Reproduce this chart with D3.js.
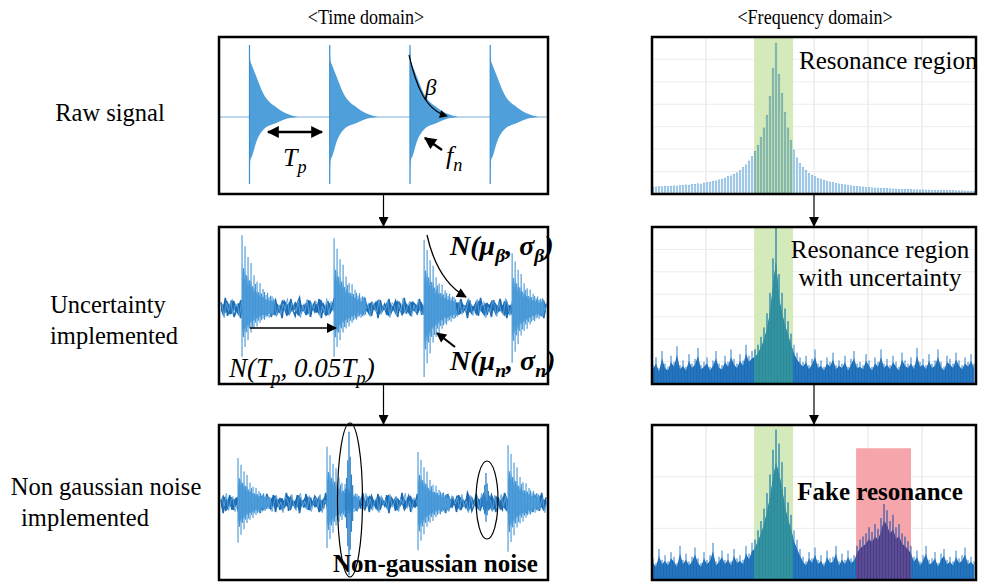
<!DOCTYPE html>
<html>
<head>
<meta charset="utf-8">
<script src="https://cdn.jsdelivr.net/npm/d3@7"></script>
<style>
  body { margin: 0; background: #fff; }
  svg { display: block; }
  svg text { font-family: "Liberation Serif", "Times New Roman", Times, serif; }
</style>
</head>
<body>
<svg width="984" height="586"></svg>
<script>
// ---- data ----
const columnTitles = ["<Time domain>", "<Frequency domain>"];
const rowLabels = [["Raw signal"], ["Uncertainty", "implemented"], ["Non gaussian noise", "implemented"]];

// raw signal: burst start times (periods) and decay envelope
const rawBurstTimes = [0, 1, 2, 3];
const rawEnvT    = [0, 0.01, 0.03, 0.09, 0.17, 0.34, 0.5, 0.6];
const rawEnvUp   = [1.0, 0.78, 0.72, 0.55, 0.33, 0.13, 0.03, 0];
const rawEnvDown = [0.93, 0.6, 0.55, 0.33, 0.18, 0.08, 0.015, 0];

// noise samples (normalised)
const timeNoise = [0.5,-0.3,0.9,-0.7,0.2,0.6,-0.8,-0.2,0.4,-0.9,0.7,0.1,-0.5,0.8,-0.4,-0.1,0.6,-0.7,0.3,0.9,
  -0.6,-0.3,0.5,-0.8,0.2,0.7,-0.4,0.1,-0.9,0.6,0.3,-0.5,0.8,-0.2,-0.7,0.4,0.9,-0.3,0.2,-0.6,
  0.7,-0.8,0.1,0.5,-0.4,0.8,-0.9,0.3,-0.1,0.6,-0.5,0.2,0.9,-0.7,0.4,-0.3,0.7,-0.6,-0.2,0.8,
  -0.4,0.3,-0.8,0.6,0.1,-0.5,0.9,-0.3,0.4,-0.7,0.2,0.5,-0.9,0.7,-0.2,0.3,-0.6,0.8,-0.4,0.1,
  0.6,-0.8,0.4,-0.1,0.9,-0.5,0.2,-0.7,0.5,0.3,-0.4,0.8,-0.6,0.1,-0.9,0.7,-0.3,0.4,-0.2,0.6,
  -0.7,0.9,-0.5,0.2,-0.8,0.3,0.6,-0.1,0.5,-0.6,0.8,-0.4,0.2,-0.9,0.7,-0.3,0.1,0.5,-0.7,0.9,
  -0.2,0.4,-0.6,0.3,-0.8,0.7,-0.5,0.1,0.8,-0.3,0.6,-0.9,0.2,-0.4,0.5,-0.1,0.9,-0.7,0.3,-0.5,
  0.6,-0.8,0.4,0.2,-0.6,0.7,-0.3,0.5,-0.9,0.3];

// burst shape with uncertainty (samples after onset)
const burstUp   = [1.0,0.55,0.85,0.45,0.7,0.38,0.62,0.3,0.45,0.33,0.36,0.22,0.34,0.2,0.26,0.22,0.18,0.21,0.15,0.17,0.16,0.13];
const burstDown = [1.0,0.6,0.8,0.5,0.66,0.42,0.5,0.39,0.42,0.3,0.38,0.26,0.3,0.25,0.22,0.24,0.19,0.17,0.2,0.15,0.16,0.14];

const uncBurstTimes = [-0.093, 1.054, 2.176, 3.273];
const uncAmpUp      = [0.97, 0.93, 0.91, 0.73];
const uncAmpDown    = [0.65, 0.65, 0.92, 0.73];

const ngBurstTimes = [-0.143, 0.966, 2.10, 3.222];
const ngAmpUp      = [0.6, 0.75, 0.68, 0.77];
const ngAmpDown    = [0.53, 0.6, 0.63, 0.65];

// non-gaussian spikes
const spikeTimes   = [1.24, 2.947];
const spikeAmpUp   = [0.95, 0.4];
const spikeAmpDown = [0.96, 0.25];
const spikeShape   = [0.2, 0.35, 0.6, 1.0, 0.65, 0.4, 0.25];

// spectra (0-100 of panel height), 108 bins
const rawSpectrum = [4.5,4.5,4.8,4.6,5,4.8,5,5.2,5,5.4,
  5.5,5.8,5.6,6,6.2,6.5,6.3,7,7.2,7.5,
  8,8.3,9,9.4,10,11,11.5,12.5,13.5,15,
  17,18.5,21,24,27,31,36,42,50,62,
  80,96,76,64,52,42,34,28,23,19.5,
  17,15,13,12,11,10,9.5,8.8,8.2,7.6,
  7.2,6.8,6.4,6,5.8,5.5,5.2,5,4.8,4.6,
  4.4,4.2,4,3.9,3.8,3.7,3.6,3.5,3.4,3.3,
  3.2,3.1,3,3,2.9,2.8,2.8,2.7,2.7,2.6,
  2.6,2.5,2.5,2.4,2.4,2.3,2.3,2.2,2.2,2.1,
  2.1,2,2,2,1.9,1.9,1.8,1.8];

const uncSpectrum = [12,17,10,21,13,11,18,14,24,12,
  15,11,19,13,16,23,12,14,17,11,
  15,21,13,12,18,14,22,16,13,19,
  15,25,18,21,22,25,30,36,45,58,
  80,100,70,58,48,40,32,25,20,17,
  14,18,12,16,22,13,15,11,17,14,
  20,12,15,13,18,11,16,21,13,14,
  12,19,15,11,17,14,22,13,16,12,
  18,14,11,20,15,13,17,12,23,14,
  16,12,19,13,15,22,14,11,18,16,
  13,20,15,12,17,14,19,13];

const ngSpectrum = [14,11,20,13,16,12,18,15,11,22,
  13,17,12,15,21,14,11,18,13,16,
  24,12,15,19,13,17,12,20,14,16,
  13,22,17,24,26,32,38,46,56,68,
  84,97,88,76,60,50,42,32,26,20,
  15,12,18,14,21,13,16,11,19,14,
  15,22,12,17,13,19,14,16,
  22,26,28,30,34,31,36,33,40,49,45,38,42,34,36,30,28,25,22,
  15,19,12,16,22,13,14,18,11,17,20,13,15,12,19,14,16,21,13,15,12];

const resonanceBand = [33.7, 46.7];   // bins
const fakeBand = [67.7, 86];          // bins
const fakeBandTop = 85;               // % of panel height

// ---- layout ----
const svg = d3.select("svg");
const rows = [[37, 194], [227, 384], [425, 580]];
const timeX = [219, 548];
const freqX = [652, 976];
const timeCenters = [117, 308, 503];
const NOISE_LEVEL = 0.15;
const PROFILE_STEP = 0.0187;
const BODY = 0.62;
const SPEC_BODY = 0.78;

const defs = svg.append("defs");
function marker(id, w, h) {
  defs.append("marker")
    .attr("id", id)
    .attr("viewBox", "0 0 10 10")
    .attr("refX", 9).attr("refY", 5)
    .attr("markerUnits", "userSpaceOnUse")
    .attr("markerWidth", w).attr("markerHeight", h)
    .attr("orient", "auto-start-reverse")
    .append("path").attr("d", "M0,0 L10,5 L0,10 z").attr("fill", "#000");
}
marker("headBig", 13, 12);
marker("headMid", 11, 10);
marker("headSmall", 9, 8);

// titles (narrow serif, as in the original)
svg.selectAll("text.title")
  .data(columnTitles)
  .enter().append("text")
  .attr("class", "title")
  .attr("transform", (d, i) => `translate(${i === 0 ? 366 : 815},24) scale(0.84,1)`)
  .attr("text-anchor", "middle")
  .attr("font-size", 21.5)
  .text(d => d);

// row labels
const labelPos = [[[110, 121]], [[108, 313], [114, 344]], [[106, 495], [85, 526]]];
rowLabels.forEach((lines, r) => {
  lines.forEach((t, k) => {
    svg.append("text")
      .attr("x", labelPos[r][k][0]).attr("y", labelPos[r][k][1])
      .attr("text-anchor", "middle")
      .attr("font-size", 24.5)
      .text(t);
  });
});

function clipFor(id, x0, x1, y0, y1) {
  defs.append("clipPath").attr("id", id)
    .append("rect").attr("x", x0).attr("y", y0).attr("width", x1 - x0).attr("height", y1 - y0);
  return `url(#${id})`;
}

// ---- time panels ----
const tx = d3.scaleLinear().domain([-0.38, 3.72]).range(timeX);

function timeY(r) {
  return d3.scaleLinear().domain([-1, 1]).range([timeCenters[r] + 75, timeCenters[r] - 75]);
}

// panel 1: raw signal
{
  const y = d3.scaleLinear().domain([-1, 1]).range([timeCenters[0] + 72, timeCenters[0] - 72]);
  const g = svg.append("g").attr("clip-path", clipFor("ct0", timeX[0], timeX[1], rows[0][0], rows[0][1]));
  g.append("line")
    .attr("x1", timeX[0]).attr("x2", timeX[1])
    .attr("y1", y(0)).attr("y2", y(0))
    .attr("stroke", "#a6c8e4").attr("stroke-width", 1.5);
  const area = d3.area()
    .x(d => d.x).y0(d => y(-d.down)).y1(d => y(d.up))
    .curve(d3.curveMonotoneX);
  rawBurstTimes.forEach(t0 => {
    const pts = rawEnvT.map((dt, k) => ({ x: tx(t0 + dt), up: rawEnvUp[k], down: rawEnvDown[k] }));
    g.append("path").attr("d", area(pts)).attr("fill", "#4f9fda");
    g.append("line")
      .attr("x1", tx(t0)).attr("x2", tx(t0))
      .attr("y1", y(rawEnvUp[0])).attr("y2", y(-rawEnvDown[0]))
      .attr("stroke", "#3b8fd0").attr("stroke-width", 1.2);
  });
}

function noisyPanel(r, noise, times, ampUp, ampDown) {
  const y = timeY(r);
  const g = svg.append("g").attr("clip-path", clipFor("ct" + r, timeX[0], timeX[1], rows[r][0], rows[r][1]));
  const nx = d3.scaleLinear().domain([0, noise.length - 1]).range([timeX[0] + 2, timeX[1] - 2]);
  const rev = noise.slice().reverse();
  // dense band
  g.append("path")
    .attr("d", d3.area().x((d, i) => nx(i))
      .y0((d, i) => y(-Math.abs(rev[i]) * NOISE_LEVEL * 0.85))
      .y1(d => y(Math.abs(d) * NOISE_LEVEL * 0.85))(noise))
    .attr("fill", "#226fb6");
  g.append("path")
    .attr("d", d3.line().x((d, i) => nx(i)).y(d => y(d * NOISE_LEVEL))(noise))
    .attr("fill", "none").attr("stroke", "#1c69b1").attr("stroke-width", 1.6);
  g.append("path")
    .attr("d", d3.line().x((d, i) => nx(i) + 1).y(d => y(d * NOISE_LEVEL * 0.95))(rev))
    .attr("fill", "none").attr("stroke", "#5aa6de").attr("stroke-width", 0.9);
  const env = d3.area().x(d => d.x).y0(d => d.y0).y1(d => d.y1).curve(d3.curveMonotoneX);
  times.forEach((t0, b) => {
    const pts = burstUp.map((d, k) => ({
      x: tx(t0 + k * PROFILE_STEP),
      y1: y(d * ampUp[b] * BODY), y0: y(-burstDown[k] * ampDown[b] * BODY)
    }));
    g.append("path").attr("d", env(pts)).attr("fill", "#5aa5dd");
    g.selectAll(null)
      .data(burstUp)
      .enter().append("line")
      .attr("x1", (d, k) => tx(t0 + k * PROFILE_STEP))
      .attr("x2", (d, k) => tx(t0 + k * PROFILE_STEP))
      .attr("y1", d => y(d * ampUp[b]))
      .attr("y2", (d, k) => y(-burstDown[k] * ampDown[b]))
      .attr("stroke", "#4596d6").attr("stroke-width", 1.1);
  });
  return g;
}

noisyPanel(1, timeNoise, uncBurstTimes, uncAmpUp, uncAmpDown);
{
  const g = noisyPanel(2, timeNoise.slice().reverse(), ngBurstTimes, ngAmpUp, ngAmpDown);
  const y = timeY(2);
  spikeTimes.forEach((t0, s) => {
    g.selectAll(null)
      .data(spikeShape)
      .enter().append("line")
      .attr("x1", (d, k) => tx(t0 + (k - 3) * PROFILE_STEP * 0.8))
      .attr("x2", (d, k) => tx(t0 + (k - 3) * PROFILE_STEP * 0.8))
      .attr("y1", d => y(d * spikeAmpUp[s]))
      .attr("y2", d => y(-d * spikeAmpDown[s]))
      .attr("stroke", "#2f82c8").attr("stroke-width", 1.3);
  });
}

// ---- frequency panels ----
const fx = d3.scaleLinear().domain([0, 107]).range([freqX[0] + 1, freqX[1] - 2]);
function freqY(r) {
  return d3.scaleLinear().domain([0, 100]).range([rows[r][1], rows[r][0]]);
}

function freqGrid(g, r, hDiv) {
  const y = freqY(r);
  const gx = d3.scaleLinear().domain([0, 6]).range(freqX);
  g.selectAll(null).data(d3.range(1, 6)).enter().append("line")
    .attr("x1", d => gx(d)).attr("x2", d => gx(d))
    .attr("y1", rows[r][0]).attr("y2", rows[r][1])
    .attr("stroke", "#e3e3e3").attr("stroke-width", 1);
  g.selectAll(null).data(d3.range(1, hDiv)).enter().append("line")
    .attr("x1", freqX[0]).attr("x2", freqX[1])
    .attr("y1", d => y(d * 100 / hDiv)).attr("y2", d => y(d * 100 / hDiv))
    .attr("stroke", "#ececec").attr("stroke-width", 1);
}

function band(g, r, b, top, color) {
  const y = freqY(r);
  g.append("rect")
    .attr("x", fx(b[0])).attr("width", fx(b[1]) - fx(b[0]))
    .attr("y", y(top)).attr("height", y(0) - y(top))
    .attr("fill", color);
}

// panel 1: raw spectrum bars
{
  const r = 0, y = freqY(r);
  const g = svg.append("g").attr("clip-path", clipFor("cf0", freqX[0], freqX[1], rows[r][0], rows[r][1]));
  freqGrid(g, r, 7);
  band(g, r, resonanceBand, 100, "#d5eabb");
  g.selectAll(null).data(rawSpectrum).enter().append("rect")
    .attr("x", (d, i) => fx(i) - 0.8).attr("width", 1.6)
    .attr("y", d => y(d)).attr("height", d => y(0) - y(d))
    .attr("fill", "#b3d5ee").attr("stroke", "#78b0db").attr("stroke-width", 0.5);
  g.selectAll(null).data(rawSpectrum.slice(34, 47)).enter().append("rect")
    .attr("x", (d, i) => fx(i + 34) - 0.8).attr("width", 1.6)
    .attr("y", d => y(d)).attr("height", d => y(0) - y(d))
    .attr("fill", "#9cc7b4").attr("stroke", "#6aa596").attr("stroke-width", 0.5);
}

function denseSpectrum(r, spec, bands) {
  const y = freqY(r);
  const g = svg.append("g").attr("clip-path", clipFor("cf" + r, freqX[0], freqX[1], rows[r][0], rows[r][1]));
  freqGrid(g, r, r === 1 ? 7 : 3);
  bands.forEach(b => band(g, r, b.range, b.top, b.bg));
  const body = d3.area().x((d, i) => fx(i)).y0(y(0)).y1(d => y(d * SPEC_BODY));
  const draw = (sel, fill, spike) => {
    sel.append("path").attr("d", body(spec)).attr("fill", fill);
    sel.selectAll(null).data(spec).enter().append("line")
      .attr("x1", (d, i) => fx(i)).attr("x2", (d, i) => fx(i))
      .attr("y1", y(0)).attr("y2", d => y(d))
      .attr("stroke", spike).attr("stroke-width", 1);
  };
  draw(g, "#1b6cb5", "#2f7fc6");
  bands.forEach((b, k) => {
    const id = `cb${r}_${k}`;
    defs.append("clipPath").attr("id", id).append("rect")
      .attr("x", fx(b.range[0])).attr("width", fx(b.range[1]) - fx(b.range[0]))
      .attr("y", rows[r][0]).attr("height", rows[r][1] - rows[r][0]);
    draw(g.append("g").attr("clip-path", `url(#${id})`), b.fg, b.edge);
  });
  return g;
}

denseSpectrum(1, uncSpectrum, [
  { range: resonanceBand, top: 100, bg: "#d5eabb", fg: "#2b8b9b", edge: "#3d9aa4" }
]);
denseSpectrum(2, ngSpectrum, [
  { range: resonanceBand, top: 100, bg: "#d5eabb", fg: "#2b8b9b", edge: "#3d9aa4" },
  { range: fakeBand, top: fakeBandTop, bg: "#f6a6ab", fg: "#4a3c87", edge: "#6a5aa0" }
]);

// ---- panel-internal text (under the border) ----
svg.append("text")
  .attr("x", 799).attr("y", 69)
  .attr("font-size", 25)
  .text("Resonance region");
svg.selectAll(null).data(["Resonance region", "with uncertainty"]).enter().append("text")
  .attr("x", 880).attr("y", (d, i) => 258 + i * 28)
  .attr("text-anchor", "middle")
  .attr("font-size", 25)
  .text(d => d);
svg.append("text")
  .attr("x", 880).attr("y", 500)
  .attr("text-anchor", "middle")
  .attr("font-size", 25).attr("font-weight", "bold")
  .text("Fake resonance");

// ---- panel borders ----
rows.forEach(([y0, y1]) => {
  [timeX, freqX].forEach(([x0, x1]) => {
    svg.append("rect")
      .attr("x", x0).attr("y", y0).attr("width", x1 - x0).attr("height", y1 - y0)
      .attr("fill", "none").attr("stroke", "#000").attr("stroke-width", 2.5);
  });
});

// flow arrows between panels
[[rows[0][1], rows[1][0]], [rows[1][1], rows[2][0]]].forEach(([a, b]) => {
  [(timeX[0] + timeX[1]) / 2, (freqX[0] + freqX[1]) / 2].forEach(x => {
    svg.append("line")
      .attr("x1", x).attr("x2", x).attr("y1", a + 1).attr("y2", b - 1)
      .attr("stroke", "#000").attr("stroke-width", 1.2)
      .attr("marker-end", "url(#headMid)");
  });
});

// ---- annotations ----
function mathText(x, y, parts, size, bold) {
  const t = svg.append("text")
    .attr("x", x).attr("y", y)
    .attr("font-size", size)
    .attr("font-style", "italic")
    .attr("font-weight", bold ? "bold" : "normal");
  let shifted = false;
  parts.forEach(([s, sub]) => {
    const sp = t.append("tspan").text(s);
    if (sub && !shifted) { sp.attr("dy", size * 0.25).attr("font-size", size * 0.7); shifted = true; }
    else if (sub) { sp.attr("font-size", size * 0.7); }
    else if (shifted) { sp.attr("dy", -size * 0.25); shifted = false; }
  });
  return t;
}

// panel 1 annotations
svg.append("line")
  .attr("x1", 268).attr("x2", 322).attr("y1", 132).attr("y2", 132)
  .attr("stroke", "#000").attr("stroke-width", 2.5)
  .attr("marker-start", "url(#headBig)").attr("marker-end", "url(#headBig)");
mathText(283, 166, [["T"], ["p", true]], 26);
svg.append("path")
  .attr("d", "M409,55 C416,85 425,110 447,116")
  .attr("fill", "none").attr("stroke", "#000").attr("stroke-width", 1.2)
  .attr("marker-end", "url(#headSmall)");
mathText(425, 95, [["β"]], 23);
svg.append("line")
  .attr("x1", 442).attr("y1", 150).attr("x2", 425).attr("y2", 138)
  .attr("stroke", "#000").attr("stroke-width", 2.5)
  .attr("marker-end", "url(#headBig)");
mathText(446, 164, [["f"], ["n", true]], 26);

// panel 2 annotations
svg.append("line")
  .attr("x1", 250).attr("x2", 336).attr("y1", 328).attr("y2", 328)
  .attr("stroke", "#000").attr("stroke-width", 1.3)
  .attr("marker-end", "url(#headMid)");
mathText(229, 377, [["N(T"], ["p", true], [", 0.05T"], ["p", true], [")"]], 27);
svg.append("path")
  .attr("d", "M427,235 C433,262 445,285 466,297")
  .attr("fill", "none").attr("stroke", "#000").attr("stroke-width", 1.3)
  .attr("marker-end", "url(#headMid)");
mathText(450, 255, [["N(μ"], ["β", true], [", σ"], ["β", true], [")"]], 28, true);
svg.append("line")
  .attr("x1", 455).attr("y1", 347).attr("x2", 437).attr("y2", 333)
  .attr("stroke", "#000").attr("stroke-width", 2.2)
  .attr("marker-end", "url(#headMid)");
mathText(450, 370, [["N(μ"], ["n", true], [", σ"], ["n", true], [")"]], 28, true);

// panel 3 annotations
svg.append("ellipse").attr("cx", 350).attr("cy", 500).attr("rx", 12.5).attr("ry", 77)
  .attr("fill", "none").attr("stroke", "#000").attr("stroke-width", 1.2);
svg.append("ellipse").attr("cx", 487).attr("cy", 500).attr("rx", 11).attr("ry", 39)
  .attr("fill", "none").attr("stroke", "#000").attr("stroke-width", 1.2);
svg.append("text")
  .attr("x", 333).attr("y", 572)
  .attr("font-size", 25).attr("font-weight", "bold")
  .text("Non-gaussian noise");
</script>
</body>
</html>
